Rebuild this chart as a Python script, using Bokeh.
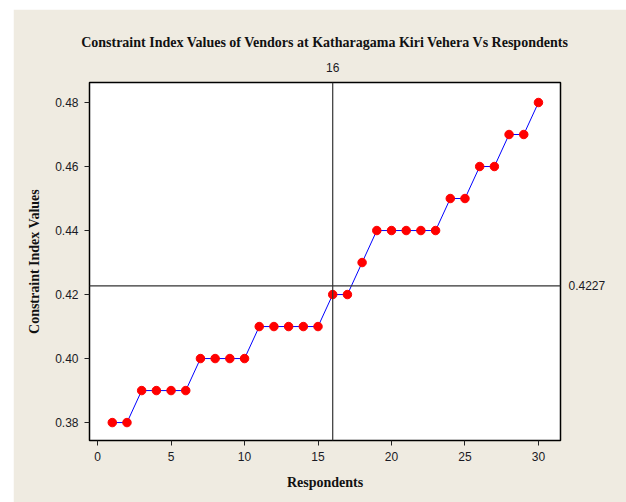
from bokeh.plotting import figure
from bokeh.models import Range1d, Span, LinearAxis, FixedTicker, ColumnDataSource, CustomJSTickFormatter
from bokeh.embed import file_html
from bokeh.resources import INLINE

respondents = list(range(1, 31))
ci_values = [0.38, 0.38, 0.39, 0.39, 0.39, 0.39, 0.40, 0.40, 0.40, 0.40,
             0.41, 0.41, 0.41, 0.41, 0.41, 0.42, 0.42, 0.43, 0.44, 0.44,
             0.44, 0.44, 0.44, 0.45, 0.45, 0.46, 0.46, 0.47, 0.47, 0.48]
x_ticks = [0, 5, 10, 15, 20, 25, 30]
y_ticks = [0.38, 0.40, 0.42, 0.44, 0.46, 0.48]
ref_x = 16
ref_y = 0.4227

BG = "#EFEBE1"
TXT = "#1a1a24"

src = ColumnDataSource(dict(x=respondents, y=ci_values))

p = figure(width=613, height=493, output_backend="svg", toolbar_location=None,
           x_range=Range1d(-0.55, 31.5), y_range=Range1d(0.3744, 0.48625),
           min_border_left=76, min_border_right=66, min_border_top=73, min_border_bottom=62,
           margin=(9, 0, 0, 13))
p.background_fill_color = "white"
p.border_fill_color = BG
p.outline_line_color = "black"
p.outline_line_width = 1.5
p.xgrid.visible = False
p.ygrid.visible = False

p.title.text = "Constraint Index Values of Vendors at Katharagama Kiri Vehera Vs Respondents"
p.title.align = "center"
p.title.text_font = "Liberation Serif"
p.title.text_font_style = "bold"
p.title.text_font_size = "14px"
p.title.text_color = "#111111"
p.title.standoff = 20

for ax in (p.xaxis[0], p.yaxis[0]):
    ax.axis_line_color = None
    ax.major_tick_line_color = "#222222"
    ax.major_tick_in = 0
    ax.major_tick_out = 5
    ax.minor_tick_line_color = None
    ax.major_label_text_font = "Liberation Sans"
    ax.major_label_text_font_size = "12px"
    ax.major_label_text_color = TXT
    ax.axis_label_text_font = "Liberation Serif"
    ax.axis_label_text_font_style = "bold"
    ax.axis_label_text_font_size = "14px"
    ax.axis_label_text_color = "#111111"
    ax.major_label_standoff = 6

p.xaxis.ticker = FixedTicker(ticks=x_ticks)
p.yaxis.ticker = FixedTicker(ticks=y_ticks)
p.yaxis.formatter = CustomJSTickFormatter(code="return tick.toFixed(2);")
p.xaxis.axis_label = "Respondents"
p.yaxis.axis_label = "Constraint Index Values"
p.xaxis.axis_label_standoff = 11
p.yaxis.axis_label_standoff = 10

top_ax = LinearAxis(ticker=FixedTicker(ticks=[ref_x]))
right_ax = LinearAxis(ticker=FixedTicker(ticks=[ref_y]))
right_ax.formatter = CustomJSTickFormatter(code="return tick.toFixed(4);")
for ax in (top_ax, right_ax):
    ax.axis_line_color = None
    ax.major_tick_line_color = None
    ax.minor_tick_line_color = None
    ax.major_label_text_font = "Liberation Sans"
    ax.major_label_text_font_size = "12px"
    ax.major_label_text_color = TXT
    ax.major_label_standoff = 5
right_ax.major_label_standoff = 2
p.add_layout(top_ax, "above")
p.add_layout(right_ax, "right")

p.add_layout(Span(location=ref_x, dimension="height", line_color="#333333", line_width=1.2))
p.add_layout(Span(location=ref_y, dimension="width", line_color="#333333", line_width=1.2))

p.line("x", "y", source=src, line_color="blue", line_width=1)
p.scatter("x", "y", source=src, marker="circle", size=8.5, fill_color="red", line_color="red")

open("out.html", "w").write(file_html(p, INLINE))
